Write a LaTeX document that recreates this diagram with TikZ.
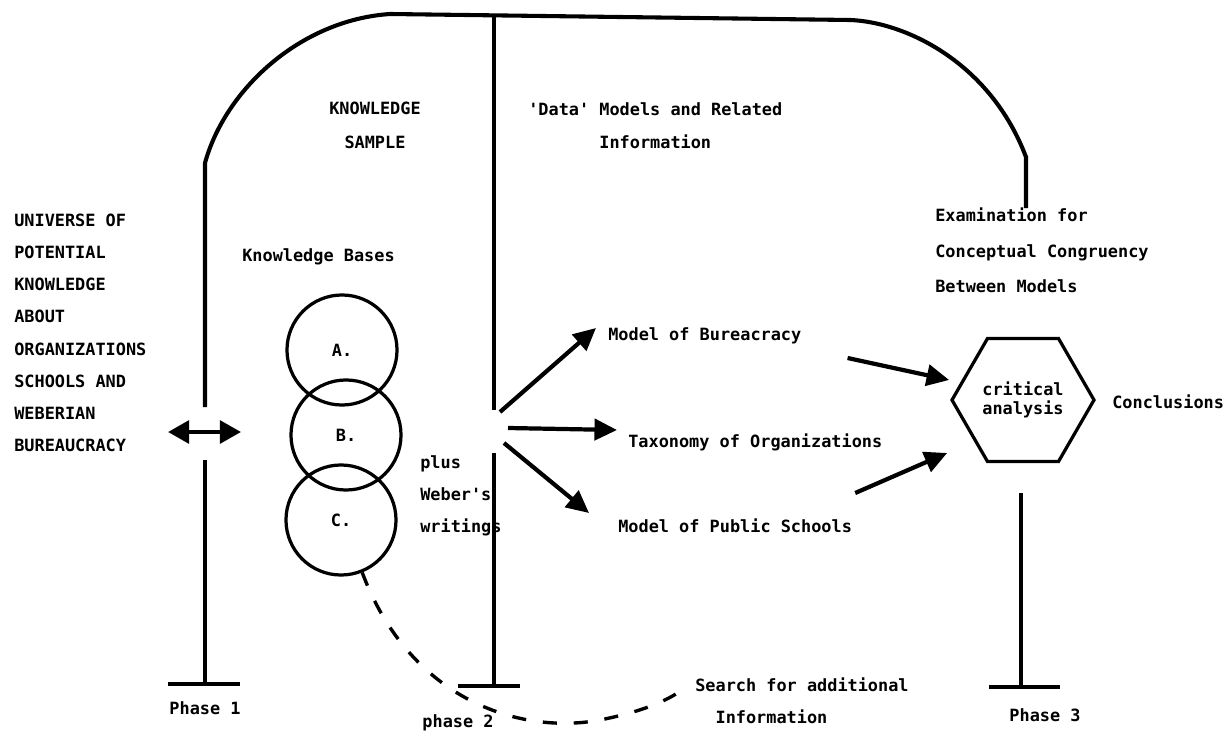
\documentclass[tikz,border=0pt]{standalone}
\usepackage{fontspec}
\setmonofont{DejaVu Sans Mono}
\usetikzlibrary{arrows.meta,shapes.geometric,positioning,calc}

\begin{document}
\begin{tikzpicture}[x=0.025cm,y=-0.025cm,
  every node/.style={font=\ttfamily\bfseries\fontsize{12}{22.8}\selectfont, inner sep=0pt},
  frame/.style={line width=2.9pt},
  kbase/.style={circle, draw, line width=2.3pt, minimum size=2.75cm},
  flow/.style={line width=3pt, -{Triangle[length=16pt,width=15pt]}},
  search/.style={line width=2.4pt, dash pattern=on 10pt off 12pt}]
\useasboundingbox (0,0) rectangle (1232,736);

% phase lines
\coordinate (p1) at (205,684);
\coordinate (p2) at (494,686);
\coordinate (p3) at (1021,687);
\draw[frame] (205,407) -- (205,163) .. controls (225,90) and (300,20) .. (390,14)
  -- (850,20) .. controls (905,22) and (990,62) .. (1026,157) -- (1026,208);
\draw[frame] (205,460) -- (p1);
\draw[frame] (494,15) -- (494,410);
\draw[frame] (494,453) -- (p2);
\draw[frame] (1021,493) -- (p3);
\draw[frame] ($(p1)+(-37,0)$) -- ($(p1)+(35,0)$);
\draw[frame] ($(p2)+(-36,0)$) -- ($(p2)+(26,0)$);
\draw[frame] ($(p3)+(-32,0)$) -- ($(p3)+(39,0)$);
\node (ph1) at (205,708) {Phase 1};
\node (ph2) at (458,723) {phase 2};
\node (ph3) at (1045,715) {Phase 3};

% left side
\node[anchor=north west, align=left] (univ) at (14,214)
  {UNIVERSE OF\\POTENTIAL\\KNOWLEDGE\\ABOUT\\ORGANIZATIONS\\SCHOOLS AND\\WEBERIAN\\BUREAUCRACY};
\coordinate (dl) at (168,432);
\coordinate (dr) at (241,432);
\draw[line width=3.2pt, {Triangle[length=15pt,width=16pt]}-{Triangle[length=15pt,width=16pt]}] (dl) -- (dr);

% knowledge sample
\node[anchor=north, align=center, font=\ttfamily\bfseries\fontsize{12}{24}\selectfont] (ks) at (375,102) {KNOWLEDGE\\SAMPLE};
\node[anchor=west] (kb) at (242,257) {Knowledge Bases};
\foreach \n/\x/\y in {A/342/350,B/346/435,C/341/520}
  \node[kbase] (\n) at (\x,\y) {\n.};
\node[anchor=north west, align=left] (plus) at (420,455) {plus\\Weber's\\writings};
\draw[search] (C.-68) .. controls (410,700) and (520,735) .. (600,720)
  .. controls (640,712) and (665,702) .. (682,690);
\node[anchor=north west, align=left] (srch) at (695,677) {Search for additional\\~~Information};

% data models
\node[anchor=north west, align=center, font=\ttfamily\bfseries\fontsize{12}{24}\selectfont] (data) at (528,102)
  {'Data' Models and Related\\Information};
\node[anchor=west] (bur) at (608,336) {Model of Bureacracy};
\node[anchor=west] (tax) at (628,442) {Taxonomy of Organizations};
\node[anchor=west] (pub) at (618,526) {Model of Public Schools};
\coordinate (f1) at (500,412);
\coordinate (f2) at (508,428);
\coordinate (f3) at (504,443);
\draw[flow] (f1) -- ($(bur.west)+(-12,-8)$);
\draw[flow] (f2) -- ($(tax.west)+(-11,-12)$);
\draw[flow] (f3) -- ($(pub.west)+(-29,-13)$);

% phase 3
\node[anchor=north west, align=left, font=\ttfamily\bfseries\fontsize{12}{25.6}\selectfont] (exam) at (935,207)
  {Examination for\\Conceptual Congruency\\Between Models};
\node[regular polygon, regular polygon sides=6, draw, line width=2.3pt,
  minimum size=3.55cm, align=center, font=\ttfamily\bfseries\fontsize{12}{14}\selectfont] (crit) at (1023,400)
  {critical\\analysis};
\node[anchor=west] (conc) at (1112,402) {Conclusions};
\draw[flow] ($(bur.east)+(46,22)$) -- ($(crit.west)+(-1,-20)$);
\draw[flow] ($(pub.east)+(3,-33)$) -- ($(crit.west)+(-3,53)$);
\end{tikzpicture}
\end{document}
